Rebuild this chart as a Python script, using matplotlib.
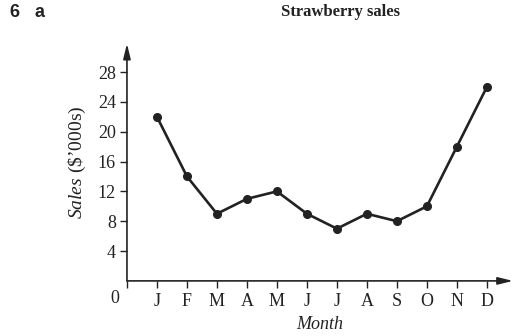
import matplotlib.pyplot as plt

months = ['J', 'F', 'M', 'A', 'M', 'J', 'J', 'A', 'S', 'O', 'N', 'D']
sales = [22, 14, 9, 11, 12, 9, 7, 9, 8, 10, 18, 26]
y_ticks = [4, 8, 12, 16, 20, 24, 28]

plt.rcParams['font.family'] = ['Liberation Serif', 'DejaVu Serif']
plt.rcParams['mathtext.fontset'] = 'custom'
plt.rcParams['mathtext.rm'] = 'Liberation Serif'
plt.rcParams['mathtext.it'] = 'Liberation Serif:italic'

ink = '#222222'

fig = plt.figure(figsize=(5.14, 3.36), dpi=100)
ax = fig.add_axes([0.247, 0.164, 0.751, 0.706])

x = list(range(1, len(months) + 1))
ax.plot(x, sales, color=ink, lw=1.9, marker='o', ms=5.5, clip_on=False, zorder=3)

ax.set_xlim(0, 12.87)
ax.set_ylim(0, 31.8)

# axes drawn as arrows instead of spines
for s in ax.spines.values():
    s.set_visible(False)
arrow = dict(arrowstyle='-|>,head_length=0.9,head_width=0.22', lw=1.2, color=ink,
             shrinkA=0, shrinkB=0)
ax.annotate('', xy=(1, 0), xytext=(0, 0), xycoords='axes fraction', arrowprops=arrow)
ax.annotate('', xy=(0, 1), xytext=(0, 0), xycoords='axes fraction', arrowprops=arrow)

ax.set_xticks([0] + x)
ax.set_xticklabels([''] + months)
ax.set_yticks(y_ticks)
ax.set_yticklabels([str(v) for v in y_ticks])
ax.tick_params(axis='both', direction='out', length=5, width=1.0, color=ink,
               labelsize=13, labelcolor=ink)
ax.tick_params(axis='x', pad=4)
ax.tick_params(axis='y', pad=3)

ax.text(-0.25, -1.2, '0', ha='right', va='top', fontsize=13, color=ink)

ax.set_xlabel('Month', fontsize=13, style='italic', color=ink, labelpad=4)
ax.set_ylabel("$\\mathit{Sales}$ (\\$\u2019000s)", fontsize=14, color=ink, labelpad=7)

fig.text(0.662, 0.965, 'Strawberry sales', ha='center', va='center',
         fontsize=12, fontweight='bold', color=ink)
fig.text(0.018, 0.962, '6', ha='left', va='center', fontsize=13, fontweight='bold',
         color=ink, family=['Liberation Sans', 'DejaVu Sans'])
fig.text(0.068, 0.962, 'a', ha='left', va='center', fontsize=13, fontweight='bold',
         color=ink, family=['Liberation Sans', 'DejaVu Sans'])

fig.savefig('out.png', dpi=100)
